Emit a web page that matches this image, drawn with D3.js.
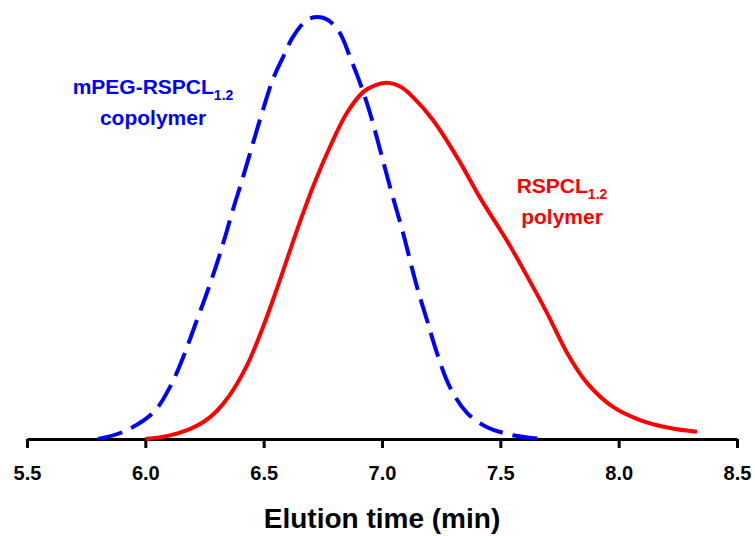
<!DOCTYPE html>
<html>
<head>
<meta charset="utf-8">
<script src="https://cdn.jsdelivr.net/npm/d3@7"></script>
<style>
  body { margin: 0; background: #fff; }
  text { font-family: "Liberation Sans", Arial, sans-serif; font-weight: bold; }
</style>
</head>
<body>
<div id="chart"></div>
<script>
// Elution time (min) vs relative detector response
const xTicks = [5.5, 6.0, 6.5, 7.0, 7.5, 8.0, 8.5];

const copolymerTime = [5.80, 5.906, 6.032, 6.104, 6.16, 6.218, 6.26, 6.303, 6.337, 6.37, 6.413,
  6.455, 6.497, 6.539, 6.582, 6.624, 6.683, 6.73, 6.772, 6.822, 6.865, 6.907, 6.949, 7.034,
  7.089, 7.148, 7.19, 7.232, 7.287, 7.359, 7.444, 7.553, 7.68];
const copolymerSignal = [0, 0.017, 0.062, 0.123, 0.194, 0.282, 0.346, 0.417, 0.479, 0.543, 0.621,
  0.701, 0.78, 0.852, 0.905, 0.953, 0.993, 1.0, 0.993, 0.962, 0.905, 0.844, 0.773, 0.597,
  0.488, 0.36, 0.282, 0.204, 0.123, 0.062, 0.028, 0.009, 0];

const polymerTime = [6.0, 6.1, 6.19, 6.25, 6.303, 6.358, 6.43, 6.497, 6.569, 6.641, 6.708,
  6.78, 6.852, 6.92, 6.97, 7.02, 7.08, 7.131, 7.215, 7.317, 7.414, 7.528, 7.613, 7.697,
  7.782, 7.866, 7.976, 8.09, 8.217, 8.331];
const polymerSignal = [0, 0.008, 0.024, 0.042, 0.067, 0.105, 0.175, 0.265, 0.377, 0.495, 0.597,
  0.692, 0.773, 0.822, 0.838, 0.844, 0.834, 0.81, 0.756, 0.668, 0.572, 0.47, 0.386, 0.299,
  0.204, 0.133, 0.076, 0.045, 0.026, 0.017];

const width = 755, height = 536;
const margin = { left: 27, right: 18, top: 17, bottom: 97 };

const svg = d3.select("#chart").append("svg")
  .attr("width", width)
  .attr("height", height);

const x = d3.scaleLinear()
  .domain([5.5, 8.5])
  .range([margin.left, width - margin.right]);

const y = d3.scaleLinear()
  .domain([0, 1])
  .range([height - margin.bottom, margin.top]);

// x axis
const xAxis = svg.append("g")
  .attr("transform", `translate(0,${y(0)})`)
  .call(d3.axisBottom(x).tickValues(xTicks).tickFormat(d3.format(".1f"))
    .tickSize(9).tickPadding(18).tickSizeOuter(0));
xAxis.select(".domain").attr("stroke", "#000").attr("stroke-width", 3);
xAxis.selectAll(".tick line").attr("stroke", "#000").attr("stroke-width", 3);
xAxis.selectAll(".tick text")
  .attr("fill", "#000")
  .style("font-size", "20px")
  .style("font-family", "'Liberation Sans', Arial, sans-serif")
  .style("font-weight", "bold");

svg.append("text")
  .attr("x", (x.range()[0] + x.range()[1]) / 2)
  .attr("y", 528)
  .attr("text-anchor", "middle")
  .style("font-size", "28px")
  .text("Elution time (min)");

const line = d3.line()
  .x(d => x(d[0]))
  .y(d => y(d[1]))
  .curve(d3.curveCatmullRom.alpha(0.5));

// RSPCL polymer (solid red)
svg.append("path")
  .datum(d3.zip(polymerTime, polymerSignal))
  .attr("fill", "none")
  .attr("stroke", "#ff0000")
  .attr("stroke-width", 4)
  .attr("d", line);

// mPEG-RSPCL copolymer (dashed blue)
svg.append("path")
  .datum(d3.zip(copolymerTime, copolymerSignal))
  .attr("fill", "none")
  .attr("stroke", "#0000ff")
  .attr("stroke-width", 4)
  .attr("stroke-dasharray", "25,10")
  .attr("d", line);

// labels
function label(cx, y0, color, main, sub, second) {
  const t = svg.append("text")
    .attr("x", cx).attr("y", y0)
    .attr("text-anchor", "middle")
    .attr("fill", color)
    .style("font-size", "21px");
  t.append("tspan").text(main);
  t.append("tspan").attr("dy", 6).style("font-size", "14px").text(sub);
  svg.append("text")
    .attr("x", cx).attr("y", y0 + 31)
    .attr("text-anchor", "middle")
    .attr("fill", color)
    .style("font-size", "21px")
    .text(second);
}
label(153, 94, "#0000ff", "mPEG-RSPCL", "1.2", "copolymer");
label(562, 193, "#ff0000", "RSPCL", "1.2", "polymer");
</script>
</body>
</html>
